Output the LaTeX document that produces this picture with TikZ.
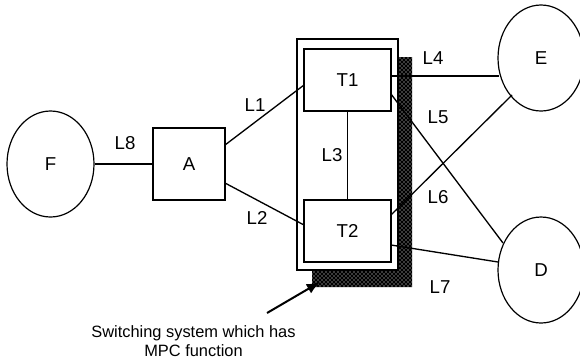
\documentclass[tikz,border=0pt]{standalone}
\usepackage{fontspec}
\setmainfont{Liberation Sans}
\usetikzlibrary{patterns,arrows.meta,shapes.geometric}
\begin{document}
\begin{tikzpicture}[x=0.75pt,y=-0.75pt,
  lbl/.style={font=\fontsize{14}{16}\selectfont},
  boxnode/.style={draw,line width=1.2pt,rectangle,inner sep=0pt},
  ell/.style={draw,line width=0.9pt,ellipse,inner sep=0pt},
  link/.style={line width=1pt}]
\useasboundingbox (0,0) rectangle (580,362);
% shadow of switching system
\fill[black] (398,57) -- (412,57) -- (412,287) -- (312,287) -- (312,270) -- (398,270) -- cycle;
\fill[pattern=crosshatch dots,pattern color=white] (398,57) -- (412,57) -- (412,287) -- (312,287) -- (312,270) -- (398,270) -- cycle;
% outer box
\node[boxnode,minimum width=75.75pt,minimum height=173.25pt,fill=white] (S) at (347.5,154.5) {};
% nodes
\node[boxnode,minimum width=65.25pt,minimum height=46.5pt] (T1) at (347.5,80) {};
\node[lbl] at (T1.center) {T1};
\node[boxnode,minimum width=65.25pt,minimum height=46.5pt] (T2) at (347.5,231) {};
\node[lbl] at (T2.center) {T2};
\node[boxnode,minimum width=54pt,minimum height=54pt] (A) at (189,164) {};
\node[lbl] at (A.center) {A};
\node[ell,minimum width=65.25pt,minimum height=79.5pt] (F) at (50.5,164) {};
\node[lbl] at (F.center) {F};
\node[ell,minimum width=64.5pt,minimum height=79.5pt] (E) at (541,58) {};
\node[lbl] at (E.center) {E};
\node[ell,minimum width=64.5pt,minimum height=79.5pt] (D) at (541,270) {};
\node[lbl] at (D.center) {D};
% connection points
\coordinate (A1) at (225,145);
\coordinate (A2) at (225,183);
\coordinate (T1a) at (304,85);
\coordinate (T2a) at (304,225);
\coordinate (T1r1) at (391,76);
\coordinate (T1r2) at (391,94);
\coordinate (T2r1) at (391,215);
\coordinate (T2r2) at (391,245);
\coordinate (E1) at (499,76);
\coordinate (E2) at (512,95);
\coordinate (D1) at (503,243);
\coordinate (D2) at (498,262);
% links
\draw[link] (F.east) -- (A.west);
\draw[link] (A1) -- (T1a);
\draw[link] (A2) -- (T2a);
\draw[link] (T1.south) -- (T2.north);
\draw[link] (T1r1) -- (E1);
\draw[link] (T1r2) -- (D1);
\draw[link] (T2r1) -- (E2);
\draw[link] (T2r2) -- (D2);
% labels
\node[lbl] (l8) at (125,143) {L8};
\node[lbl] (l1) at (255,105) {L1};
\node[lbl] (l2) at (257,218) {L2};
\node[lbl] (l3) at (332,155) {L3};
\node[lbl] (l4) at (433,58) {L4};
\node[lbl] (l5) at (438,117) {L5};
\node[lbl] (l6) at (438,197) {L6};
\node[lbl] (l7) at (440,287) {L7};
% caption
\node[font=\fontsize{12.3}{14.5}\selectfont,align=center] (cap) at (193.5,341) {Switching system which has\\MPC function};
\coordinate (arrs) at (267,313);
\coordinate (arre) at (320,282);
\draw[line width=1.5pt,-{Latex[length=10pt,width=8pt]}] (arrs) -- (arre);
\end{tikzpicture}
\end{document}
